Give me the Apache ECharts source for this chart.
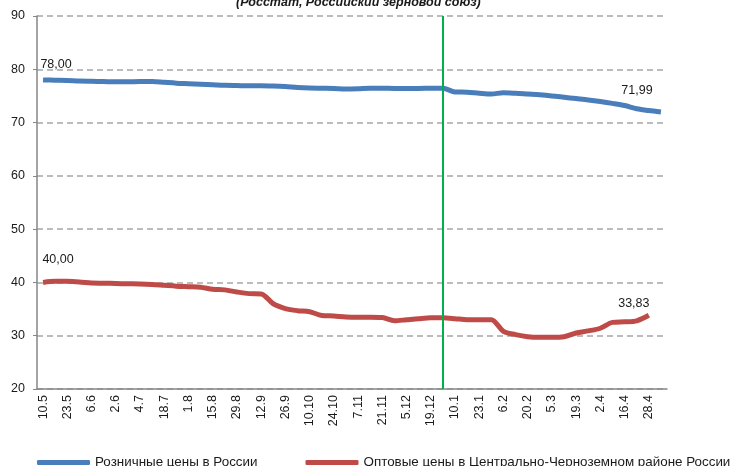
<!DOCTYPE html>
<html>
<head>
<meta charset="utf-8">
<script src="https://cdn.jsdelivr.net/npm/echarts@6/dist/echarts.min.js"></script>
<style>
  html, body { margin: 0; padding: 0; background: #fff; }
  #chart { width: 734px; height: 466px; }
</style>
</head>
<body>
<div id="chart"></div>
<script>
// weekly dates; only every second one is shown on the axis
const categories = [
  '10.5', '16.5', '23.5', '30.5', '6.6', '13.6', '2.6', '27.6', '4.7', '11.7',
  '18.7', '25.7', '1.8', '8.8', '15.8', '22.8', '29.8', '5.9', '12.9', '19.9',
  '26.9', '3.10', '10.10', '17.10', '24.10', '31.10', '7.11', '14.11', '21.11', '28.11',
  '5.12', '12.12', '19.12', '26.12', '10.1', '16.1', '23.1', '30.1', '6.2', '13.2',
  '20.2', '27.2', '5.3', '12.3', '19.3', '26.3', '2.4', '9.4', '16.4', '23.4',
  '28.4', '5.5'
]

const retailPrices = [
  78.00, 77.95, 77.9, 77.8, 77.75, 77.7, 77.65, 77.65, 77.7, 77.7,
  77.55, 77.4, 77.3, 77.2, 77.1, 77.0, 76.95, 76.9, 76.9, 76.85,
  76.75, 76.6, 76.5, 76.45, 76.4, 76.3, 76.35, 76.45, 76.45, 76.4,
  76.4, 76.4, 76.45, 76.45, 75.75, 75.7, 75.5, 75.35, 75.6, 75.5,
  75.35, 75.2, 75.0, 74.75, 74.5, 74.25, 73.95, 73.6, 73.2, 72.6,
  72.25, 71.99
]

const wholesalePrices = [
  40.00, 40.2, 40.2, 40.1, 39.9, 39.85, 39.8, 39.75, 39.7, 39.6,
  39.45, 39.3, 39.2, 39.1, 38.7, 38.6, 38.2, 37.9, 37.85, 36.0,
  35.1, 34.7, 34.5, 33.8, 33.7, 33.5, 33.45, 33.45, 33.4, 32.8,
  33.0, 33.2, 33.35, 33.35, 33.2, 33.0, 33.0, 33.0, 30.8, 30.2,
  29.8, 29.7, 29.7, 29.8, 30.5, 30.9, 31.4, 32.5, 32.6, 32.8,
  33.83, null
]

const seriesNames = ['Розничные цены в России', 'Оптовые цены в Центрально-Черноземном районе России']
const sourceNote = '(Росстат, Российский зерновой союз)'
const markerDate = '26.12'

const font = 'Liberation Sans, Arial, sans-serif'

// labelled points: index -> offset of the value label
function withLabels(values, marks) {
  return values.map((v, i) => {
    if (marks[i] === undefined) return v
    return {
      value: v,
      label: {
        show: true,
        position: 'top',
        offset: marks[i],
        formatter: (p) => p.value.toFixed(2).replace('.', ','),
        color: '#1a1a1a',
        fontSize: 12.5,
        fontFamily: font
      }
    }
  })
}

const chart = echarts.init(document.getElementById('chart'))

chart.setOption({
  animation: false,
  title: {
    text: sourceNote,
    left: 231,
    top: -9,
    textStyle: { fontSize: 12.5, fontWeight: 'bold', fontStyle: 'italic', color: '#1a1a1a', fontFamily: font }
  },
  grid: { left: 37, right: 67, top: 16, bottom: 77 },
  legend: {
    left: 37,
    top: 456,
    width: 697,
    padding: 0,
    itemWidth: 53,
    itemHeight: 5,
    itemGap: 48,
    icon: 'roundRect',
    textStyle: { fontSize: 13.4, color: '#1a1a1a', fontFamily: font },
    data: seriesNames
  },
  xAxis: {
    type: 'category',
    data: categories,
    boundaryGap: true,
    axisLine: { lineStyle: { color: '#868686', width: 1.5 } },
    axisTick: { interval: 0, length: 4, lineStyle: { color: '#868686' } },
    axisLabel: { interval: 1, rotate: 90, margin: 6, fontSize: 12.5, color: '#1a1a1a', fontFamily: font },
    splitLine: { show: false }
  },
  yAxis: {
    type: 'value',
    min: 20,
    max: 90,
    interval: 10,
    axisLine: { show: true, lineStyle: { color: '#868686', width: 1.5 } },
    axisTick: { show: true, length: 4, lineStyle: { color: '#868686' } },
    axisLabel: { margin: 12, fontSize: 12.5, color: '#1a1a1a', fontFamily: font },
    splitLine: { lineStyle: { color: '#a6a6a6', width: 1.5, type: [6, 4] } }
  },
  series: [
    {
      name: seriesNames[0],
      type: 'line',
      data: withLabels(retailPrices, { 0: [13, -4], 51: [-24, -10] }),
      smooth: 0.3,
      symbol: 'circle',
      symbolSize: 0,
      itemStyle: { color: '#4a7ebb' },
      lineStyle: { color: '#4a7ebb', width: 5 },
      markLine: {
        silent: true,
        symbol: 'none',
        label: { show: false },
        lineStyle: { color: '#00b050', width: 2, type: 'solid' },
        data: [{ xAxis: markerDate }]
      }
    },
    {
      name: seriesNames[1],
      type: 'line',
      data: withLabels(wholesalePrices, { 0: [15, -11], 50: [-15, 0] }),
      smooth: 0.3,
      symbol: 'circle',
      symbolSize: 0,
      itemStyle: { color: '#be4b48' },
      lineStyle: { color: '#be4b48', width: 5 }
    }
  ]
})
</script>
</body>
</html>
